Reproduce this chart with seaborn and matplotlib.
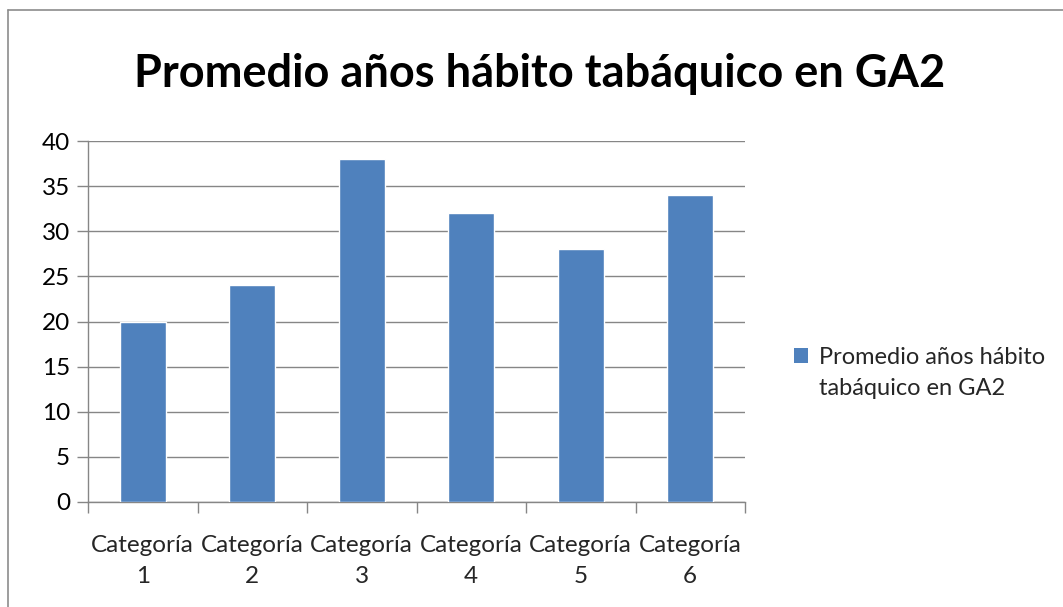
import matplotlib
matplotlib.use("Agg")
import matplotlib.pyplot as plt
import seaborn as sns
import pandas as pd
from matplotlib.lines import Line2D
from matplotlib.patches import Patch

categories = ["Categoría\n1", "Categoría\n2", "Categoría\n3", "Categoría\n4", "Categoría\n5", "Categoría\n6"]
values = [20, 24, 38, 32, 28, 34]
title = "Promedio años hábito tabáquico en GA2"
legend_label = "Promedio años hábito\ntabáquico en GA2"
yticks = [0, 5, 10, 15, 20, 25, 30, 35, 40]

sns.set_theme(style="white")
plt.rcParams["font.family"] = ["Lato", "DejaVu Sans"]

W, H = 1063, 607
fig = plt.figure(figsize=(W / 100, H / 100), dpi=100)
fig.patch.set_facecolor("white")

ax = fig.add_axes([88 / W, 1 - 502 / H, (745 - 88) / W, (502 - 141) / H])

df = pd.DataFrame({"cat": categories, "val": values})
bar_color = "#4F81BD"
sns.barplot(data=df, x="cat", y="val", color=bar_color, width=0.42,
            saturation=1, ax=ax, zorder=3)

grid_color = "#868686"
ax.set_xlim(-0.5, len(categories) - 0.5)
ax.set_ylim(0, 40)
ax.set_yticks(yticks)
ax.set_yticklabels([str(v) for v in yticks], fontsize=17.5, color="#000000")
ax.yaxis.grid(True, color=grid_color, linewidth=1.0, zorder=0)
ax.set_axisbelow(True)

for side in ["top", "right"]:
    ax.spines[side].set_visible(False)
for side in ["left", "bottom"]:
    ax.spines[side].set_color(grid_color)
    ax.spines[side].set_linewidth(1.0)

ax.tick_params(axis="y", which="major", length=8, width=1, color=grid_color,
               direction="out", pad=5, left=True)
ax.set_xticks(range(len(categories)))
ax.set_xticklabels(categories, fontsize=17.5)
for lbl in ax.get_xticklabels():
    lbl.set_linespacing(1.55)
ax.tick_params(axis="x", which="major", length=0, pad=24)
ax.set_xticks([i - 0.5 for i in range(len(categories) + 1)], minor=True)
ax.tick_params(axis="x", which="minor", length=8, width=1, color=grid_color,
               direction="out", bottom=True)
ax.set_xlabel("")
ax.set_ylabel("")

fig.text(540 / W, 1 - 74 / H, title, ha="center", va="center",
         fontsize=32.5, fontweight="bold", color="#000000")

handle = Patch(facecolor=bar_color, edgecolor="none")
leg = fig.legend([handle], [legend_label], loc="center left",
                 bbox_to_anchor=(794 / W, 1 - 373 / H), frameon=False,
                 fontsize=17, handlelength=0.6, handleheight=0.6,
                 handletextpad=0.45, borderpad=0, labelspacing=0.3,
                 borderaxespad=0)
leg.get_texts()[0].set_linespacing(1.55)
# keep the colour swatch level with the first text line
swatch = leg.get_patches()[0]
swatch.set_y(swatch.get_y() + 13)

# outer chart frame
fig.add_artist(Line2D([8 / W, 8 / W], [0, 1 - 10 / H], color="#8c8c8c", linewidth=1.2))
fig.add_artist(Line2D([8 / W, 1], [1 - 10 / H, 1 - 10 / H], color="#8c8c8c", linewidth=1.2))

fig.savefig("out.png", dpi=100)
